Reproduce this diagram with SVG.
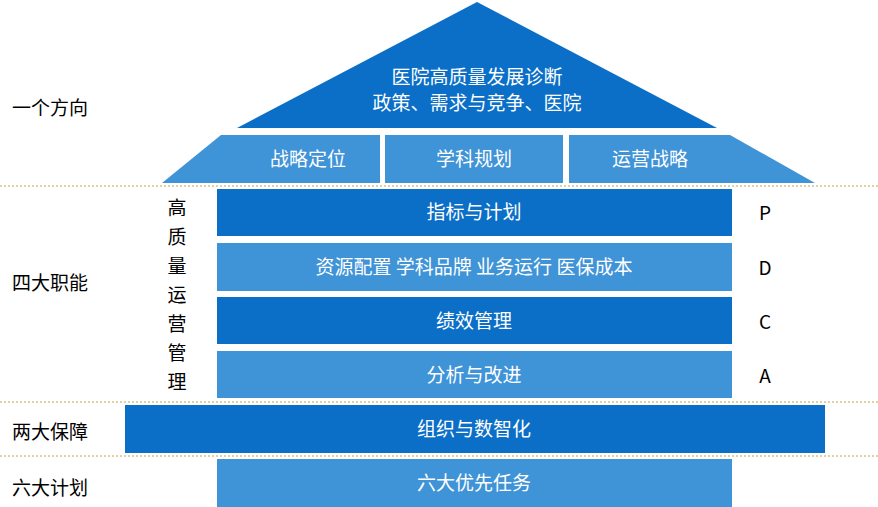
<svg xmlns="http://www.w3.org/2000/svg" width="878" height="507" viewBox="0 0 878 507">
<style>
.d{fill:#0b6fc7}.l{fill:#3f93d7}
.w{font-family:"Noto Sans CJK SC","Noto Sans",sans-serif;font-size:19px;fill:#fff;text-anchor:middle}
.k{font-family:"Noto Sans CJK SC","Noto Sans",sans-serif;font-size:19px;fill:#000}
.sep{stroke:#c9a04a;stroke-width:1;stroke-dasharray:2 2}
</style>
<rect width="878" height="507" fill="#fff"/>
<g id="seps"><line class="sep" x1="0" y1="186" x2="878" y2="186"/><line class="sep" x1="0" y1="402" x2="878" y2="402"/><line class="sep" x1="0" y1="456" x2="878" y2="456"/></g>
<g id="roof"><polygon class="d" points="477,2 717,128 237,128"/>
<text class="w" x="477" y="84">医院高质量发展诊断</text><text class="w" x="477" y="110">政策、需求与竞争、医院</text></g>
<g id="p1"><polygon class="l" points="221,135 380,135 380,183 162,183"/><text class="w" x="308" y="166">战略定位</text></g>
<g id="p2"><rect class="l" x="385" y="135" width="178" height="48"/><text class="w" x="474" y="166">学科规划</text></g>
<g id="p3"><polygon class="l" points="569,135 730,135 815,183 569,183"/><text class="w" x="650" y="166">运营战略</text></g>
<g id="b1"><rect class="d" x="217" y="189" width="515" height="47"/><text class="w" x="474" y="219">指标与计划</text></g>
<g id="b2"><rect class="l" x="217" y="243" width="515" height="48"/><text class="w" x="474" y="274">资源配置  学科品牌  业务运行  医保成本</text></g>
<g id="b3"><rect class="d" x="217" y="297" width="515" height="47"/><text class="w" x="474" y="328">绩效管理</text></g>
<g id="b4"><rect class="l" x="217" y="351" width="515" height="47"/><text class="w" x="474" y="382">分析与改进</text></g>
<g id="b5"><rect class="d" x="125" y="405" width="700" height="48"/><text class="w" x="474" y="436">组织与数智化</text></g>
<g id="b6"><rect class="l" x="217" y="459" width="515" height="48"/><text class="w" x="474" y="490">六大优先任务</text></g>
<g id="labels">
<text class="k" x="12" y="115">一个方向</text><text class="k" x="12" y="290">四大职能</text>
<text class="k" x="12" y="439">两大保障</text><text class="k" x="12" y="495">六大计划</text>
<g class="k" text-anchor="middle" style="text-anchor:middle">
<text class="k" x="177" y="215" text-anchor="middle">高</text><text class="k" x="177" y="244" text-anchor="middle">质</text><text class="k" x="177" y="273" text-anchor="middle">量</text><text class="k" x="177" y="302" text-anchor="middle">运</text><text class="k" x="177" y="331" text-anchor="middle">营</text><text class="k" x="177" y="360" text-anchor="middle">管</text><text class="k" x="177" y="389" text-anchor="middle">理</text></g>
<text class="k" x="765" y="220" text-anchor="middle">P</text><text class="k" x="765" y="275" text-anchor="middle">D</text><text class="k" x="765" y="329" text-anchor="middle">C</text><text class="k" x="765" y="383" text-anchor="middle">A</text>
</g>
</svg>
